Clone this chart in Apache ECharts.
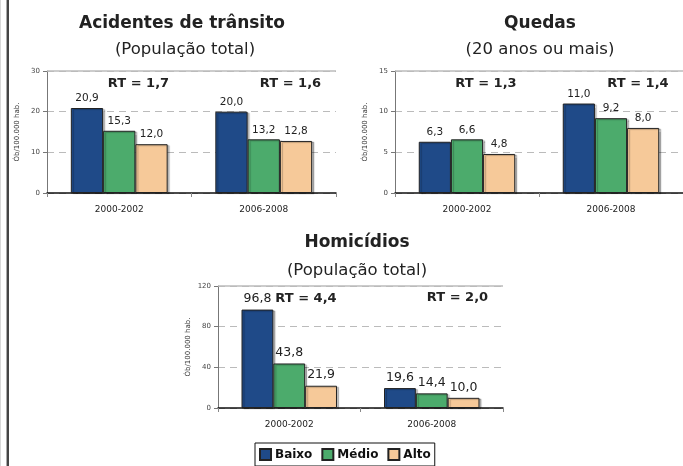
<!DOCTYPE html>
<html>
<head>
<meta charset="utf-8">
<script src="https://cdn.jsdelivr.net/npm/echarts@6/dist/echarts.min.js"></script>
<style>
  html, body { margin: 0; padding: 0; background: #fff; }
  #chart { width: 683px; height: 466px; }
</style>
</head>
<body>
<div id="chart"></div>
<script>
// Periods on the category axis
const periods = ['2000-2002', '2006-2008'];
// Socio-economic strata (legend)
const strata = ['Baixo', 'Médio', 'Alto'];

// Deaths per 100,000 inhabitants
const transitoBaixo = [20.9, 20.0];
const transitoMedio = [15.3, 13.2];
const transitoAlto  = [12.0, 12.8];

const quedasBaixo = [6.3, 11.0];
const quedasMedio = [6.6, 9.2];
const quedasAlto  = [4.8, 8.0];

const homicidiosBaixo = [96.8, 19.6];
const homicidiosMedio = [43.8, 14.4];
const homicidiosAlto  = [21.9, 10.0];

// Rate ratios per period
const rtTransito   = ['RT = 1,7', 'RT = 1,6'];
const rtQuedas     = ['RT = 1,3', 'RT = 1,4'];
const rtHomicidios = ['RT = 4,4', 'RT = 2,0'];

// Value-axis ticks
const transitoTicks   = { min: 0, max: 30,  interval: 10 };
const quedasTicks     = { min: 0, max: 15,  interval: 5 };
const homicidiosTicks = { min: 0, max: 120, interval: 40 };

const colors = ['#1f4a88', '#4cab6c', '#f6c999'];
const FONT = '"DejaVu Sans", Verdana, sans-serif';

const panels = [
  { grid: { left: 47, top: 71, width: 289, height: 122 }, ticks: transitoTicks,
    data: [transitoBaixo, transitoMedio, transitoAlto], labelSize: 10.5, gap: '33%' },
  { grid: { left: 395, top: 71, width: 290, height: 122 }, ticks: quedasTicks,
    data: [quedasBaixo, quedasMedio, quedasAlto], labelSize: 10.5, gap: '33%' },
  { grid: { left: 218, top: 286, width: 285, height: 122 }, ticks: homicidiosTicks,
    data: [homicidiosBaixo, homicidiosMedio, homicidiosAlto], labelSize: 12.5, gap: '33%' }
];

const fmt = v => v.toFixed(1).replace('.', ',');

const grids = [], xAxes = [], yAxes = [], series = [];
panels.forEach((p, i) => {
  grids.push(Object.assign({ containLabel: false }, p.grid));
  xAxes.push({
    type: 'category', gridIndex: i, data: periods,
    axisLine: { lineStyle: { color: '#111', width: 1.5 } },
    axisTick: { show: true, length: 4, lineStyle: { color: '#888' } },
    axisLabel: { fontFamily: FONT, fontSize: 9, color: '#222', margin: 12 }
  });
  yAxes.push({
    type: 'value', gridIndex: i,
    min: p.ticks.min, max: p.ticks.max, interval: p.ticks.interval,
    name: 'Ób/100.000 hab.', nameLocation: 'middle', nameGap: 26, nameRotate: 90,
    nameTextStyle: { fontFamily: FONT, fontSize: 7, color: '#333' },
    axisLine: { show: true, lineStyle: { color: '#777', width: 1 } },
    axisTick: { show: true, length: 4, lineStyle: { color: '#777' } },
    axisLabel: { fontFamily: FONT, fontSize: 7, color: '#444', margin: 7 },
    splitLine: { show: true, lineStyle: { color: '#bbb', width: 1, type: [7, 5] } }
  });
  p.data.forEach((vals, k) => {
    const s = {
      name: strata[k], type: 'bar', xAxisIndex: i, yAxisIndex: i,
      data: vals, barGap: '0%', barCategoryGap: p.gap,
      itemStyle: {
        color: colors[k], borderColor: '#222', borderWidth: 1,
        shadowColor: 'rgba(0,0,0,0.25)', shadowBlur: 1, shadowOffsetX: 2, shadowOffsetY: 1
      },
      label: {
        show: true, position: 'top', distance: 4,
        fontFamily: FONT, fontSize: p.labelSize, color: '#222',
        formatter: d => fmt(d.value)
      },
      emphasis: { disabled: true }
    };
    if (k === 0) {
      // solid border along the top of the plot area
      s.markLine = {
        silent: true, symbol: 'none', label: { show: false },
        lineStyle: { color: '#bbb', type: 'solid', width: 1.5 },
        data: [{ yAxis: p.ticks.max }]
      };
    }
    series.push(s);
  });
});

function text(x, y, str, size, bold) {
  return {
    type: 'text', x: x, y: y, silent: true,
    style: {
      text: str, fill: '#222',
      font: (bold ? 'bold ' : '') + size + 'px ' + FONT,
      textAlign: 'center', textVerticalAlign: 'middle'
    }
  };
}

const graphics = [
  // page frame on the left
  { type: 'rect', shape: { x: 0, y: 0, width: 1, height: 466 }, style: { fill: '#d8d8d8' }, silent: true },
  { type: 'rect', shape: { x: 6, y: 0, width: 1, height: 466 }, style: { fill: '#aaa' }, silent: true },
  { type: 'rect', shape: { x: 7, y: 0, width: 2, height: 466 }, style: { fill: '#444' }, silent: true },
  // titles
  text(182, 24, 'Acidentes de trânsito', 17, true),
  text(185, 50, '(População total)', 16.5, false),
  text(540, 24, 'Quedas', 17, true),
  text(540, 50, '(20 anos ou mais)', 16.5, false),
  text(357, 243, 'Homicídios', 17, true),
  text(357, 271, '(População total)', 16.5, false),
  // rate ratios
  text(138.5, 84, rtTransito[0], 13, true),
  text(290.5, 84, rtTransito[1], 13, true),
  text(486, 84, rtQuedas[0], 13, true),
  text(638, 84, rtQuedas[1], 13, true),
  text(306, 299, rtHomicidios[0], 13, true),
  text(457.5, 298, rtHomicidios[1], 13, true)
];

const chart = echarts.init(document.getElementById('chart'), null, { renderer: 'canvas' });
chart.setOption({
  animation: false,
  backgroundColor: '#fff',
  grid: grids,
  xAxis: xAxes,
  yAxis: yAxes,
  series: series,
  legend: {
    data: strata, left: 255, top: 443,
    orient: 'horizontal', icon: 'rect',
    itemWidth: 11, itemHeight: 11, itemGap: 9,
    padding: [5, 4, 5, 4],
    borderColor: '#111', borderWidth: 1,
    textStyle: { fontFamily: FONT, fontSize: 12, fontWeight: 'bold', color: '#111', padding: [0, 0, 0, -1] },
    selectedMode: false
  },
  graphic: graphics
});
</script>
</body>
</html>
